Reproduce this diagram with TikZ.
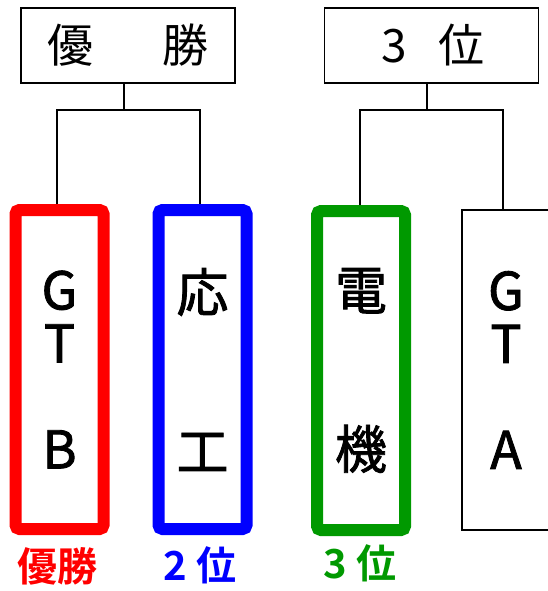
\documentclass[tikz,border=0pt]{standalone}
\usepackage{fontspec}
\setmainfont{Noto Sans CJK JP}[BoldFont={Noto Sans CJK JP Bold}]
\newfontfamily\teamfont{Noto Sans CJK JP}[FakeBold=1.6]
\usepackage{tikz}
\usetikzlibrary{positioning}
\definecolor{winred}{RGB}{255,0,0}
\definecolor{winblue}{RGB}{0,0,255}
\definecolor{wingreen}{RGB}{0,153,0}

\begin{document}
\begin{tikzpicture}[x=1pt,y=-1pt,
						titlebox/.style={rectangle, draw=black, line width=1.6pt, minimum width=214pt, minimum height=75pt, inner sep=0pt, font=\fontsize{46}{50}\selectfont},
						teambox/.style={rectangle, draw=#1, line width=12pt, rounded corners=4pt, fill=white, minimum width=88pt, minimum height=319pt, inner sep=0pt, align=center, font=\teamfont\fontsize{52}{53}\selectfont},
						plainbox/.style={rectangle, draw=black, line width=1.6pt, fill=white, minimum width=88pt, minimum height=320pt, inner sep=0pt, align=center, font=\teamfont\fontsize{52}{53}\selectfont},
						ranklabel/.style={font=\fontsize{40}{44}\selectfont\bfseries, text=#1},
						]
						\useasboundingbox (0,0) rectangle (547,591);
						%Nodes
						\node[titlebox]      (champ) 	at	(128,45.5) 	{優\hspace{1.5em}勝};
						\node[titlebox]      (third) 	at	(431.5,45.5) 	{};
						\node                (thirdtxt)	at	(433,45) 	{\fontsize{46}{50}\selectfont 3\hspace{0.7em}位};
						\node[teambox=winred]   (gtb) 	at 	(59.5,369.5)     {G\\T\\[53pt]B};
						\node[teambox=winblue]  (ouko) 	at 	(202.5,369.5)    {応\\[106pt]工};
						\node[teambox=wingreen] (denki) at 	(361,370.5)      {電\\[106pt]機};
						\node[plainbox]         (gta) 	at 	(506,370)        {G\\T\\[53pt]A};
						\node[ranklabel=winred]   (lab1) 	at 	(57,566)  	{優勝};
						\node[ranklabel=winblue]  (lab2) 	at 	(200,565)  	{2 位};
						\node[ranklabel=wingreen] (lab3) 	at 	(360,563)  	{3 位};
						\coordinate (j1) at (124,110);
						\coordinate (j2) at (427,110);

						%Lines
						\draw[line width=1.6pt] (champ.south -| j1) -- (j1);
						\draw[line width=1.6pt] ([xshift=-2.5pt]gtb.north) |- (j1) -| ([xshift=-2.5pt]ouko.north);
						\draw[line width=1.6pt] (third.south -| j2) -- (j2);
						\draw[line width=1.6pt] ([xshift=-1pt]denki.north) |- (j2) -| ([xshift=-3pt]gta.north);
					\end{tikzpicture}
\end{document}
